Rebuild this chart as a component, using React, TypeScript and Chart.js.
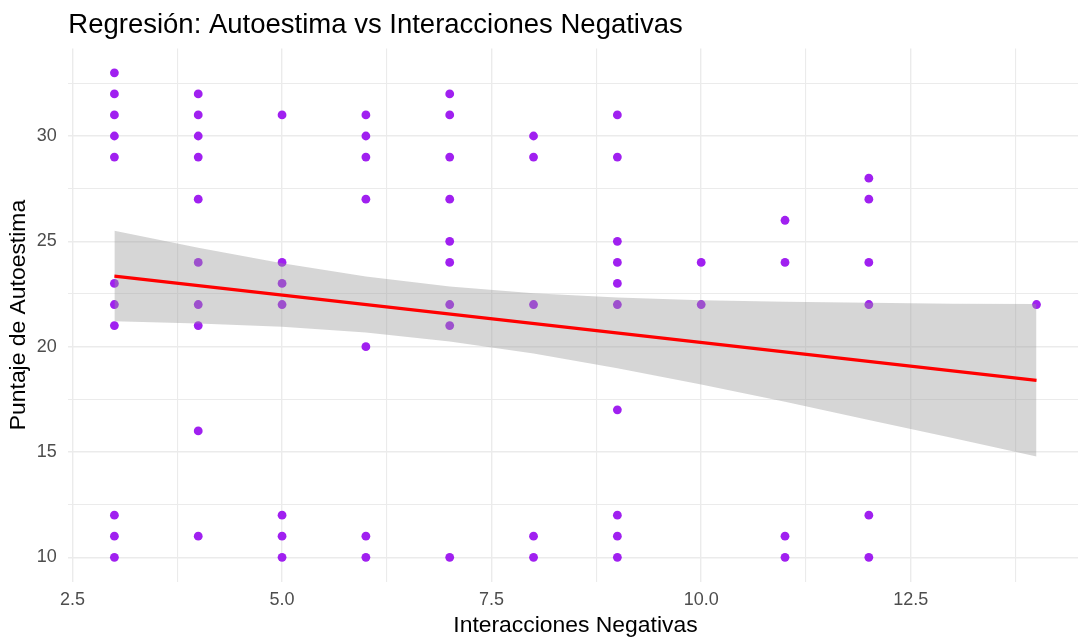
import React, { useEffect, useRef } from "react";
import { Chart, registerables } from "chart.js";

Chart.register(...registerables);

// ---- Data ----
const interacciones = [
  3, 3, 3, 3, 3, 3, 3, 3, 3, 3, 3,
  4, 4, 4, 4, 4, 4, 4, 4, 4, 4,
  5, 5, 5, 5, 5, 5, 5,
  6, 6, 6, 6, 6, 6, 6,
  7, 7, 7, 7, 7, 7, 7, 7, 7,
  8, 8, 8, 8, 8,
  9, 9, 9, 9, 9, 9, 9, 9, 9, 9,
  10, 10,
  11, 11, 11, 11,
  12, 12, 12, 12, 12, 12,
  14,
];
const autoestima = [
  33, 32, 31, 30, 29, 23, 22, 21, 12, 11, 10,
  32, 31, 30, 29, 27, 24, 22, 21, 16, 11,
  31, 24, 23, 22, 12, 11, 10,
  31, 30, 29, 27, 20, 11, 10,
  32, 31, 29, 27, 25, 24, 22, 21, 10,
  30, 29, 22, 11, 10,
  31, 29, 25, 24, 23, 22, 17, 12, 11, 10,
  24, 22,
  26, 24, 11, 10,
  28, 27, 24, 22, 12, 10,
  22,
];

// regression line (endpoints) and confidence band
const fitX = [3, 14];
const fitY = [23.35, 18.4];
const bandX = [3, 4, 5, 6, 7, 8, 9, 10, 11, 12, 13, 14];
const bandUpper = [25.5, 24.7, 23.96, 23.33, 22.85, 22.53, 22.33, 22.2, 22.13, 22.08, 22.04, 22.02];
const bandLower = [21.2, 21.1, 20.94, 20.67, 20.25, 19.67, 18.98, 18.2, 17.38, 16.52, 15.66, 14.78];

const xTicks = [2.5, 3.75, 5, 6.25, 7.5, 8.75, 10, 11.25, 12.5, 13.75];
const xTickLabels = ["2.5", "", "5.0", "", "7.5", "", "10.0", "", "12.5", ""];
const yTicks = [10, 12.5, 15, 17.5, 20, 22.5, 25, 27.5, 30, 32.5];
const yTickLabels = ["10", "", "15", "", "20", "", "25", "", "30", ""];

const titleText = "Regresión: Autoestima vs Interacciones Negativas";
const xTitle = "Interacciones Negativas";
const yTitle = "Puntaje de Autoestima";

const FONT = "'Liberation Sans', Arial, sans-serif";

export default function App() {
  const canvasRef = useRef<HTMLCanvasElement | null>(null);

  useEffect(() => {
    const canvas = canvasRef.current;
    if (!canvas) return;

    const titlePlugin = {
      id: "ggTitle",
      afterDraw(chart: any) {
        const { ctx, chartArea } = chart;
        ctx.save();
        ctx.font = `27.5px ${FONT}`;
        ctx.fillStyle = "#000000";
        ctx.textAlign = "left";
        ctx.textBaseline = "alphabetic";
        ctx.fillText(titleText, chartArea.left, 33.3);
        ctx.restore();
      },
    };

    const gridColor = "#EBEBEB";

    const chart = new Chart(canvas, {
      type: "scatter",
      data: {
        datasets: [
          {
            type: "line",
            label: "fit",
            data: fitX.map((x, i) => ({ x, y: fitY[i] })),
            borderColor: "#FF0000",
            borderWidth: 3.2,
            pointRadius: 0,
            fill: false,
            order: 1,
          } as any,
          {
            type: "line",
            label: "upper",
            data: bandX.map((x, i) => ({ x, y: bandUpper[i] })),
            borderWidth: 0,
            borderColor: "rgba(0,0,0,0)",
            backgroundColor: "rgba(153,153,153,0.4)",
            pointRadius: 0,
            fill: "+1",
            order: 2,
          } as any,
          {
            type: "line",
            label: "lower",
            data: bandX.map((x, i) => ({ x, y: bandLower[i] })),
            borderWidth: 0,
            borderColor: "rgba(0,0,0,0)",
            pointRadius: 0,
            fill: false,
            order: 3,
          } as any,
          {
            type: "scatter",
            label: "puntos",
            data: interacciones.map((x, i) => ({ x, y: autoestima[i] })),
            pointRadius: 4.4,
            pointHoverRadius: 4.4,
            pointBorderWidth: 0,
            pointBackgroundColor: "#A020F0",
            backgroundColor: "#A020F0",
            borderColor: "#A020F0",
            order: 4,
          } as any,
        ],
      },
      options: {
        responsive: false,
        animation: false,
        events: [],
        layout: { padding: { top: 48.6, left: 0, right: 1.7, bottom: 0 } },
        plugins: {
          legend: { display: false },
          tooltip: { enabled: false },
          title: { display: false },
        },
        scales: {
          x: {
            type: "linear",
            min: 2.45,
            max: 14.55,
            afterBuildTicks: (scale: any) => {
              scale.ticks = xTicks.map((v) => ({ value: v }));
            },
            afterFit: (scale: any) => {
              scale.height = 59.5;
            },
            ticks: {
              autoSkip: false,
              maxRotation: 0,
              padding: 8,
              color: "#4D4D4D",
              font: { family: FONT, size: 18 },
              callback: (value: any) => {
                const idx = xTicks.indexOf(Number(value));
                return idx >= 0 ? xTickLabels[idx] : "";
              },
            },
            grid: {
              drawTicks: false,
              color: gridColor,
              lineWidth: (ctx: any) => {
                const v = ctx.tick ? ctx.tick.value : 0;
                const idx = xTicks.indexOf(v);
                return idx >= 0 && xTickLabels[idx] !== "" ? 1.4 : 1.1;
              },
            },
            border: { display: false },
            title: {
              display: true,
              text: xTitle,
              color: "#000000",
              font: { family: FONT, size: 22.9 },
              padding: { top: 0, bottom: 1.1 },
            },
          },
          y: {
            type: "linear",
            min: 8.85,
            max: 34.15,
            afterBuildTicks: (scale: any) => {
              scale.ticks = yTicks.map((v) => ({ value: v }));
            },
            afterFit: (scale: any) => {
              scale.width = 68.3;
            },
            ticks: {
              autoSkip: false,
              padding: 11.6,
              color: "#4D4D4D",
              font: { family: FONT, size: 18 },
              callback: (value: any) => {
                const idx = yTicks.indexOf(Number(value));
                return idx >= 0 ? yTickLabels[idx] : "";
              },
            },
            grid: {
              drawTicks: false,
              color: gridColor,
              lineWidth: (ctx: any) => {
                const v = ctx.tick ? ctx.tick.value : 0;
                const idx = yTicks.indexOf(v);
                return idx >= 0 && yTickLabels[idx] !== "" ? 1.4 : 1.1;
              },
            },
            border: { display: false },
            title: {
              display: true,
              text: yTitle,
              color: "#000000",
              font: { family: FONT, size: 22.9 },
              padding: { top: 5.3, bottom: 0 },
            },
          },
        },
      } as any,
      plugins: [titlePlugin],
    });

    return () => {
      chart.destroy();
    };
  }, []);

  return (
    <div
      style={{
        position: "fixed",
        left: 0,
        top: 0,
        width: 1078,
        height: 641,
        overflow: "hidden",
        background: "#ffffff",
      }}
    >
      <canvas ref={canvasRef} width={1087} height={641} style={{ display: "block" }} />
    </div>
  );
}
